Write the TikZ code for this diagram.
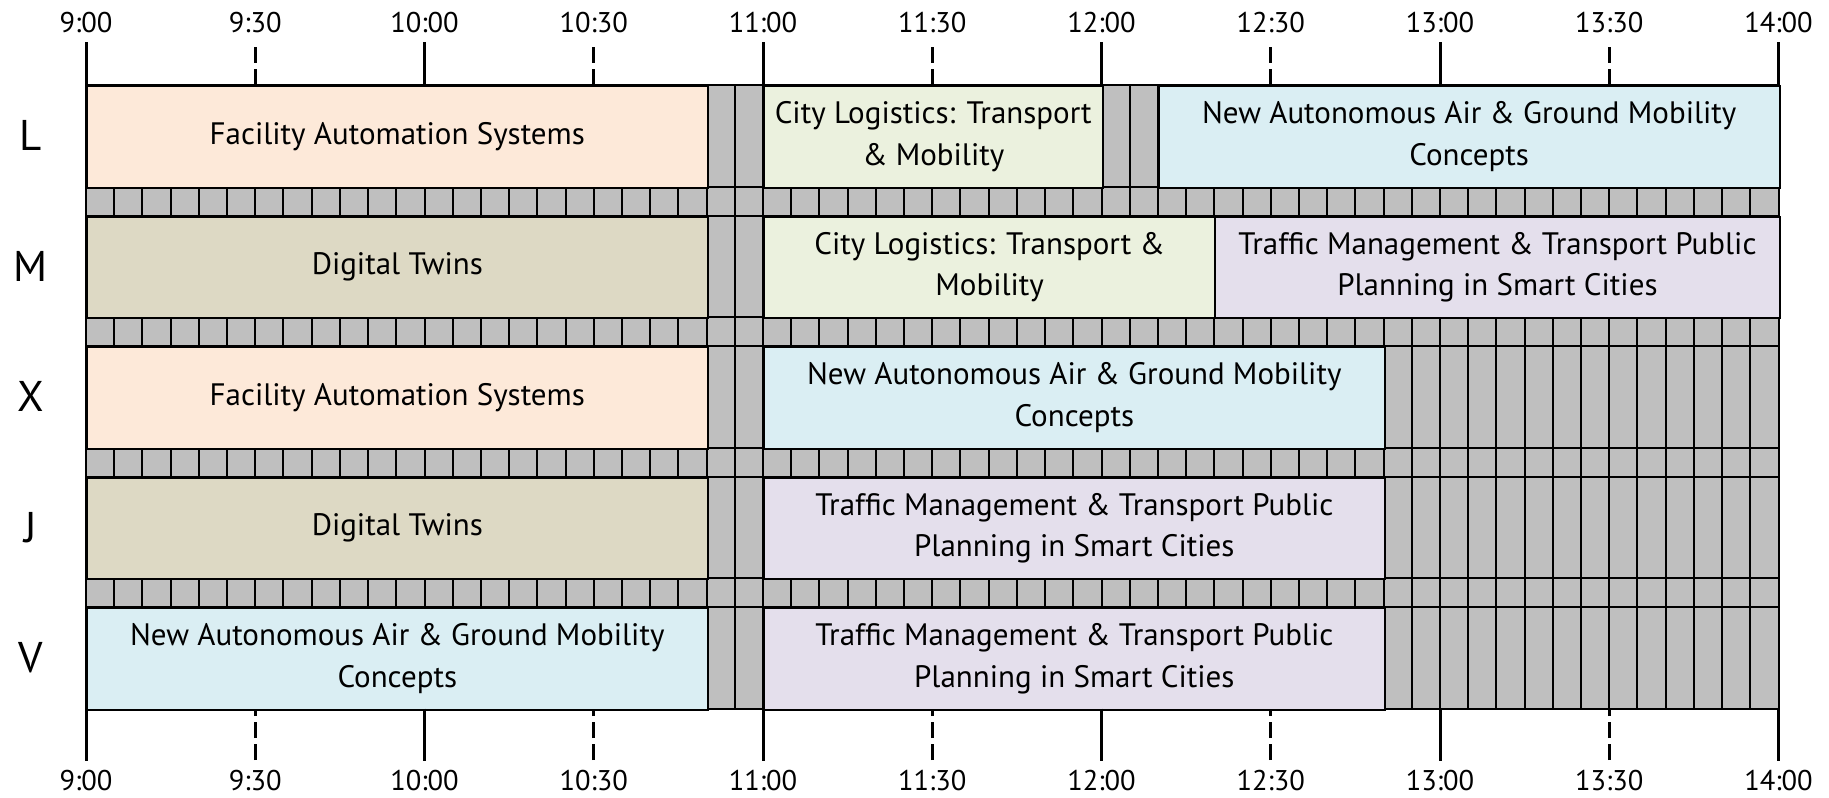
\documentclass[tikz,border=0pt]{standalone}
\usepackage{fontspec}
\setmainfont{PT Sans}
\definecolor{peach}{HTML}{FDE9D9}
\definecolor{sage}{HTML}{EBF1DE}
\definecolor{sky}{HTML}{DAEEF3}
\definecolor{tan}{HTML}{DDD9C4}
\definecolor{lav}{HTML}{E4DFEC}
\definecolor{cellgray}{HTML}{BFBFBF}
\newcommand\sess[6]{%
  \node[sessbox, fill=#5, minimum width={(#4-#3)*5.6417}, anchor=north west]
    (#1) at ({86+5.6417*#3},{85+130.5*#2}) {#6};}
\tikzset{
  sessbox/.style={draw=black, line width=2pt, inner sep=0pt, minimum height=101.5,
    align=center, font=\fontsize{31}{41.5}\selectfont},
  gridline/.style={draw=black, line width=2pt},
  hourtick/.style={draw=black, line width=3pt},
  halftick/.style={draw=black, line width=3pt, dash pattern=on 16pt off 6pt},
  timelab/.style={font=\fontsize{28.5}{30}\selectfont, inner sep=0pt},
  rowlab/.style={font=\fontsize{43}{45}\selectfont, inner sep=0pt},
}
\begin{document}
\begin{tikzpicture}[x=1pt,y=-1pt]
\useasboundingbox (0,0) rectangle (1829,798);
% gray background cells
\fill[cellgray] (86,85) rectangle (1778.5,708.5);
\foreach \k in {0,...,60}
  \draw[gridline] ({86+28.2083*\k},85) -- ({86+28.2083*\k},708.5);
\foreach \r in {0,...,4} {
  \draw[gridline] (86,{85+130.5*\r}) -- (1778.5,{85+130.5*\r});
  \draw[gridline] (86,{186.5+130.5*\r}) -- (1778.5,{186.5+130.5*\r});
}
% sessions
\sess{L1}{0}{0}{110}{peach}{Facility Automation Systems}
\sess{L2}{0}{120}{180}{sage}{City Logistics: Transport\\\& Mobility}
\sess{L3}{0}{190}{300}{sky}{New Autonomous Air \& Ground Mobility\\Concepts}
\sess{M1}{1}{0}{110}{tan}{Digital Twins}
\sess{M2}{1}{120}{200}{sage}{City Logistics: Transport \&\\Mobility}
\sess{M3}{1}{200}{300}{lav}{Traffic Management \& Transport Public\\Planning in Smart Cities}
\sess{X1}{2}{0}{110}{peach}{Facility Automation Systems}
\sess{X2}{2}{120}{230}{sky}{New Autonomous Air \& Ground Mobility\\Concepts}
\sess{J1}{3}{0}{110}{tan}{Digital Twins}
\sess{J2}{3}{120}{230}{lav}{Traffic Management \& Transport Public\\Planning in Smart Cities}
\sess{V1}{4}{0}{110}{sky}{New Autonomous Air \& Ground Mobility\\Concepts}
\sess{V2}{4}{120}{230}{lav}{Traffic Management \& Transport Public\\Planning in Smart Cities}
% row labels
\foreach \r/\lab in {0/L,1/M,2/X,3/J,4/V}
  \node[rowlab] (row\lab) at (31,{135.75+130.5*\r}) {\lab};
% ticks and time labels
\foreach \i/\lab in {0/9:00,2/10:00,4/11:00,6/12:00,8/13:00,10/14:00} {
  \coordinate (tt\i) at ({86+169.25*\i},42);
  \coordinate (tb\i) at ({86+169.25*\i},85);
  \coordinate (bt\i) at ({86+169.25*\i},708.5);
  \coordinate (bb\i) at ({86+169.25*\i},761);
  \draw[hourtick] (tt\i) -- (tb\i);
  \draw[hourtick] (bt\i) -- (bb\i);
  \node[timelab] (top\i) at ({86+169.25*\i},22.5) {\lab};
  \node[timelab] (bot\i) at ({86+169.25*\i},781) {\lab};
}
\foreach \i/\lab in {1/9:30,3/10:30,5/11:30,7/12:30,9/13:30} {
  \coordinate (tt\i) at ({86+169.25*\i},47);
  \coordinate (tb\i) at ({86+169.25*\i},85);
  \coordinate (bt\i) at ({86+169.25*\i},708.5);
  \coordinate (bb\i) at ({86+169.25*\i},760);
  \draw[halftick] (tt\i) -- (tb\i);
  \draw[halftick] (bb\i) -- (bt\i);
  \node[timelab] (top\i) at ({86+169.25*\i},22.5) {\lab};
  \node[timelab] (bot\i) at ({86+169.25*\i},781) {\lab};
}
\end{tikzpicture}
\end{document}
